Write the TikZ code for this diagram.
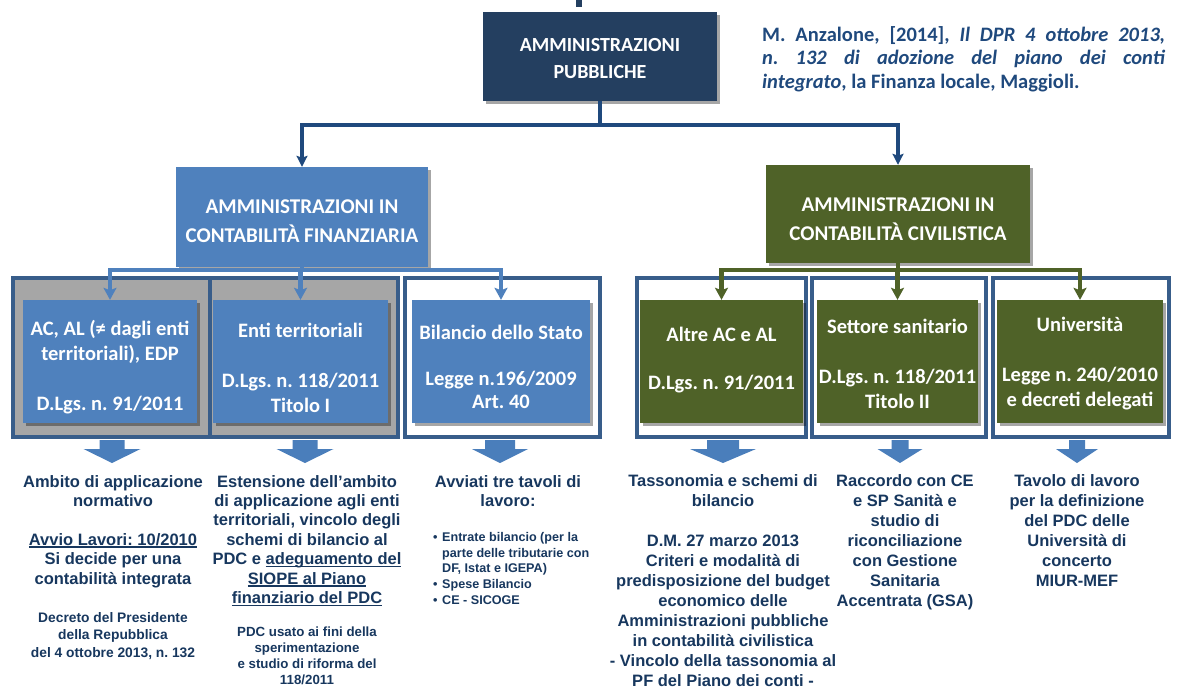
\documentclass[tikz,border=0pt]{standalone}
\usepackage{fontspec}
\setmainfont{Carlito}
\newfontfamily\arialf{Liberation Sans}
\usetikzlibrary{shadows,arrows.meta}
\frenchspacing
\definecolor{navy}{HTML}{243F60}
\definecolor{topline}{HTML}{1F497D}
\definecolor{stblue}{HTML}{4F81BD}
\definecolor{olive}{HTML}{4F6228}
\definecolor{frmcol}{HTML}{385D8A}
\definecolor{boxgray}{HTML}{A6A6A6}
\definecolor{txtnavy}{HTML}{17375E}
\definecolor{citecol}{HTML}{1F497D}
\definecolor{barrowc}{HTML}{4A7EBB}
\newcommand\undl[1]{\setbox0=\hbox{#1}\rlap{\rule[-2.4pt]{\wd0}{1.3pt}}\box0}
\newcommand\mybul{\makebox[9pt][l]{\textbullet}}
\newcommand\mybulind{\hspace*{9pt}}
\newcommand\blockarr[3]{%
  \fill[barrowc] (#1-#2,440) -- (#1+#2,440) -- (#1+#2,449) -- (#1+#3,449)
    -- (#1,463) -- (#1-#3,449) -- (#1-#2,449) -- cycle;}
\begin{document}
\frenchspacing
\begin{tikzpicture}[x=1pt,y=-1pt,
  hbox/.style={draw=none, inner sep=0pt,
    drop shadow={shadow xshift=3pt, shadow yshift=-3pt, opacity=0.35, fill=black}},
  hlabel/.style={text=white, align=center, inner sep=0pt,
    font={\bfseries\fontsize{20}{26.5}\selectfont}},
  hlabelb/.style={text=white, align=center, inner sep=0pt,
    font={\bfseries\fontsize{21}{28.5}\selectfont}},
  frm/.style={draw=frmcol, line width=4.5pt, minimum height=159pt, inner sep=0pt},
  ibox/.style={draw=none, inner sep=0pt, minimum height=123pt,
    drop shadow={shadow xshift=3pt, shadow yshift=-3pt, opacity=0.35, fill=black}},
  ilabel/.style={text=white, align=center, inner sep=0pt,
    font={\bfseries\fontsize{20.5}{25}\selectfont}},
  topconn/.style={draw=topline, line width=4.5pt, -{Stealth[length=11pt,width=11pt,inset=2pt]}},
  lconn/.style={draw=stblue, line width=4.5pt, -{Stealth[length=12pt,width=13pt,inset=2.5pt]}},
  rconn/.style={draw=olive, line width=4.5pt, -{Stealth[length=12pt,width=13pt,inset=2.5pt]}},
  btxt/.style={text=txtnavy, align=center, inner sep=0pt, anchor=north,
    font={\arialf\bfseries\fontsize{16.5}{19.4}\selectfont}},
  stxt/.style={text=txtnavy, align=center, inner sep=0pt, anchor=north,
    font={\arialf\bfseries\fontsize{13.6}{17}\selectfont}}
]
\useasboundingbox (0,0) rectangle (1179,694);

% stub of the cut-off title at the top edge
\fill[navy] (576,0) rectangle (582,7);

% top box
\node[hbox, fill=navy, minimum width=234pt, minimum height=89pt] (pa) at (600,56.5) {};
\node[hlabel] (pat) at (600,58.5) {AMMINISTRAZIONI\\PUBBLICHE};

% citation
\node[anchor=north west, text width=403pt, align=justify, inner sep=0pt, text=citecol,
  font={\bfseries\fontsize{20.5}{23.5}\selectfont}] (cit) at (762,26)
  {M. Anzalone, [2014], \textit{Il DPR 4 ottobre 2013,}\linebreak
   \textit{n. 132 di adozione del piano dei conti}\linebreak
   \textit{integrato}, la Finanza locale, Maggioli.};

% second level boxes
\node[hbox, fill=stblue, minimum width=252pt, minimum height=100pt] (fin) at (302,217) {};
\node[hlabelb] (fint) at (302,221) {AMMINISTRAZIONI IN\\CONTABILITÀ FINANZIARIA};
\node[hbox, fill=olive, minimum width=264pt, minimum height=98pt] (civ) at (898,214) {};
\node[hlabelb] (civt) at (898,219) {AMMINISTRAZIONI IN\\CONTABILITÀ CIVILISTICA};

% outer frames
\node[frm, fill=boxgray, minimum width=197pt] (fa) at (111.5,357.5) {};
\node[frm, fill=boxgray, minimum width=188pt] (fb) at (304,357.5) {};
\node[frm, fill=white, minimum width=195pt] (fc) at (502.5,357.5) {};
\node[frm, fill=white, minimum width=169pt] (fd) at (721.5,357.5) {};
\node[frm, fill=white, minimum width=174pt] (fe) at (899,357.5) {};
\node[frm, fill=white, minimum width=176pt] (ff) at (1081,357.5) {};

% inner boxes
\node[ibox, fill=stblue, minimum width=174pt] (ia) at (110,361.5) {};
\node[ibox, fill=stblue, minimum width=175pt] (ib) at (300.5,361.5) {};
\node[ibox, fill=stblue, minimum width=178pt] (ic) at (501,361.5) {};
\node[ibox, fill=olive, minimum width=163pt] (id) at (721.5,361.5) {};
\node[ibox, fill=olive, minimum width=161pt] (ie) at (897.5,361.5) {};
\node[ibox, fill=olive, minimum width=166pt] (ig) at (1080,361.5) {};

\node[ilabel] (iat) at (110,367.5) {AC, AL (≠ dagli enti\\territoriali), EDP\\[25pt]D.Lgs. n. 91/2011};
\node[ilabel] (ibt) at (300.5,367.5) {Enti territoriali\\[25pt]D.Lgs. n. 118/2011\\Titolo I};
\node[ilabel, font={\bfseries\fontsize{20.5}{23}\selectfont}] (ict) at (501,366.5)
  {Bilancio dello Stato\\[23pt]Legge n.196/2009\\Art. 40};
\node[ilabel, font={\bfseries\fontsize{20.5}{24}\selectfont}] (idt) at (721.5,360)
  {Altre AC e AL\\[24pt]D.Lgs. n. 91/2011};
\node[ilabel] (iet) at (897.5,364) {Settore sanitario\\[25pt]D.Lgs. n. 118/2011\\Titolo II};
\node[ilabel] (igt) at (1080,364) {Università\\[25pt]Legge n. 240/2010\\e decreti delegati};

% connectors
\draw[topconn] (pa.south) -- ++(0,24) -| (fin.north);
\draw[topconn] (pa.south) -- ++(0,24) -| (civ.north);
\draw[lconn] (fin.south) -- ++(0,3) -| (ia.north);
\draw[lconn] (fin.south) -- ++(0,3) -| (ib.north);
\draw[lconn] (fin.south) -- ++(0,3) -| (ic.north);
\draw[rconn] (civ.south) -- ++(0,7) -| (id.north);
\draw[rconn] (civ.south) -- ++(0,7) -| (ie.north);
\draw[rconn] (civ.south) -- ++(0,7) -| (ig.north);

% block arrows
\blockarr{112}{12.5}{28.5}
\blockarr{305}{12.5}{28.5}
\blockarr{500}{15}{28}
\blockarr{723}{16}{33}
\blockarr{900}{8.5}{22.5}
\blockarr{1077}{8}{21}

% bottom texts
\node[btxt] (ta) at (113,475) {Ambito di applicazione\\normativo\\[19.4pt]\undl{Avvio Lavori: 10/2010}\\Si decide per una\\contabilità integrata};
\node[stxt, font={\arialf\bfseries\fontsize{13.8}{17.5}\selectfont}] (tas) at (113,612)
  {Decreto del Presidente\\della Repubblica\\del 4 ottobre 2013, n. 132};
\node[btxt] (tb) at (307,475) {Estensione dell’ambito\\di applicazione agli enti\\territoriali, vincolo degli\\schemi di bilancio al\\PDC e \undl{adeguamento del}\\\undl{SIOPE al Piano}\\\undl{finanziario del PDC}};
\node[stxt, font={\arialf\bfseries\fontsize{13.3}{16.2}\selectfont}] (tbs) at (307,626.5)
  {PDC usato ai fini della\\sperimentazione\\e studio di riforma del\\118/2011};
\node[btxt] (tc) at (508,475) {Avviati tre tavoli di\\lavoro:};
\node[anchor=north west, align=left, inner sep=0pt, text=txtnavy,
  font={\arialf\bfseries\fontsize{12.6}{15.8}\selectfont}] (tcb) at (433,532)
  {\mybul Entrate bilancio (per la\\\mybulind parte delle tributarie con\\\mybulind DF, Istat e IGEPA)\\\mybul Spese Bilancio\\\mybul CE - SICOGE};
\node[btxt, font={\arialf\bfseries\fontsize{16.5}{20}\selectfont}] (td) at (723,474)
  {Tassonomia e schemi di\\bilancio\\[20pt]D.M. 27 marzo 2013\\Criteri e modalità di\\predisposizione del budget\\economico delle\\Amministrazioni pubbliche\\in contabilità civilistica\\- Vincolo della tassonomia al\\PF del Piano dei conti -};
\node[btxt, font={\arialf\bfseries\fontsize{16.5}{20}\selectfont}] (te) at (905,474)
  {Raccordo con CE\\e SP Sanità e\\studio di\\riconciliazione\\con Gestione\\Sanitaria\\Accentrata (GSA)};
\node[btxt, font={\arialf\bfseries\fontsize{16.5}{20}\selectfont}] (tf) at (1077,474)
  {Tavolo di lavoro\\per la definizione\\del PDC delle\\Università di\\concerto\\MIUR-MEF};
\end{tikzpicture}
\end{document}
